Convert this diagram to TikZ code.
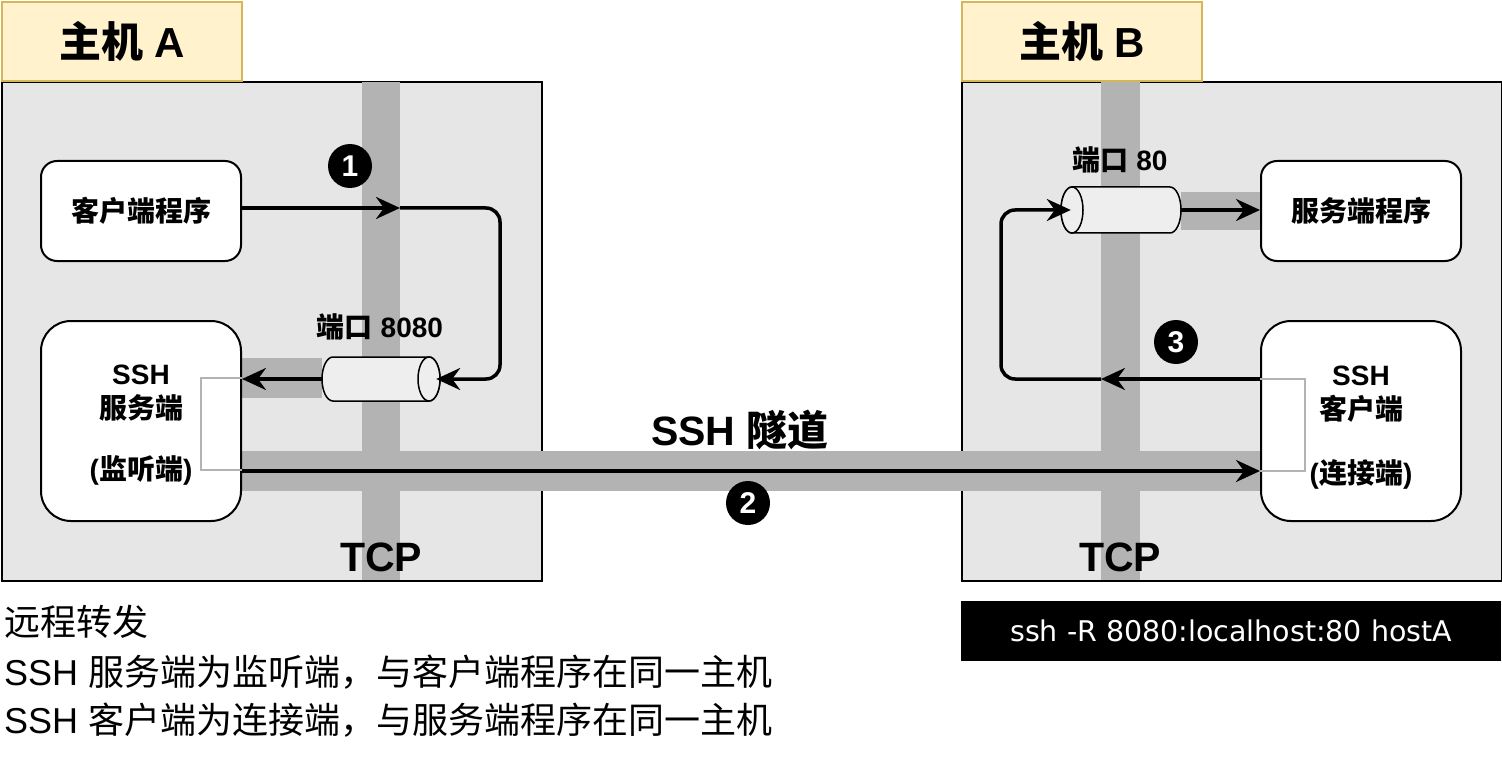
\documentclass[tikz,border=0pt]{standalone}
\usepackage{fontspec}
\setmainfont{Liberation Sans}
\newfontfamily\cjk{Noto Sans CJK SC}
\newfontfamily\cmdfont{DejaVu Sans}
\usetikzlibrary{arrows.meta}
\definecolor{hostgray}{HTML}{E6E6E6}
\definecolor{bandgray}{HTML}{B3B3B3}
\definecolor{labelfill}{HTML}{FFF2CC}
\definecolor{labelborder}{HTML}{D6B656}
\definecolor{cylfill}{HTML}{EEEEEE}
\newcommand\zh[1]{{\cjk #1}}
\begin{document}
\begin{tikzpicture}[x=1pt,y=-1pt,
  hostbox/.style={draw=black, line width=2pt, fill=hostgray, minimum width=540, minimum height=499, anchor=north west, inner sep=0},
  hostlabel/.style={draw=labelborder, fill=labelfill, line width=2pt, minimum width=240, minimum height=79, anchor=north west, inner sep=0, font=\bfseries\fontsize{42}{44}\selectfont},
  band/.style={fill=bandgray},
  prog/.style={draw=black, line width=2pt, fill=white, rounded corners=16, minimum width=200, minimum height=100, font=\bfseries\fontsize{28}{32}\selectfont, inner sep=0},
  sshbox/.style={prog, rounded corners=30, minimum height=200},
  portarea/.style={inner sep=0, minimum width=118, minimum height=44},
  cyl/.style={draw=black, line width=1.5pt, fill=cylfill},
  portlabel/.style={font=\bfseries\fontsize{28}{31}\selectfont},
  tip/.style={-{Stealth[length=24pt,width=22pt,inset=8pt]}},
  flow/.style={draw=black, line width=3.5pt, tip},
  loopline/.style={draw=bandgray, line width=2.5pt},
  badge/.style={circle, fill=black, minimum size=44, inner sep=0, text=white, font=\bfseries\fontsize{30}{30}\selectfont},
  big/.style={font=\bfseries\fontsize{41}{42}\selectfont},
  note/.style={anchor=base west, font=\fontsize{36}{40}\selectfont, inner sep=0},
  cmd/.style={fill=black, text=white, minimum width=540, minimum height=60, anchor=north west, inner sep=0, font=\cmdfont\fontsize{28.5}{30}\selectfont}
]
\useasboundingbox (0,0) rectangle (1502,762);

% hosts
\node[hostbox] (hostA) at (1,81) {};
\node[hostbox] (hostB) at (961,81) {};
\node[hostlabel] (labA) at (1,1) {\zh{主机} A};
\node[hostlabel] (labB) at (961,1) {\zh{主机} B};

% TCP bands and tunnel
\fill[band] (362,82) rectangle (400,580);
\fill[band] (1101,82) rectangle (1140,580);
\fill[band] (241,451) rectangle (1261,491);
\fill[band] (241,358) rectangle (322,398);
\fill[band] (1181,192) rectangle (1261,230);

% boxes
\node[prog] (client) at (141,211) {\zh{客户端程序}};
\node[sshbox] (sshsrv) at (141,421) {\begin{tabular}{@{}c@{}}\rule{0pt}{32.4pt}SSH\\\zh{服务端}\\[28pt](\zh{监听端})\end{tabular}};
\node[prog] (service) at (1361,211) {\zh{服务端程序}};
\node[sshbox] (sshcli) at (1361,421) {\begin{tabular}{@{}c@{}}\rule{0pt}{36.4pt}SSH\\\zh{客户端}\\[31pt](\zh{连接端})\end{tabular}};

% ports (cylinders)
\node[portarea] (cylA) at (381,379) {};
\filldraw[cyl] (333,357) arc[start angle=270, end angle=90, x radius=11, y radius=22]
  -- (429,401) arc[start angle=90, end angle=-90, x radius=11, y radius=22] -- cycle;
\draw[cyl] (429,379) ellipse [x radius=11, y radius=22];
\node[portarea, minimum width=120, minimum height=46] (cylB) at (1121,210) {};
\filldraw[cyl] (1072,187) -- (1170,187) arc[start angle=270, end angle=450, x radius=11, y radius=23]
  -- (1072,233) arc[start angle=90, end angle=270, x radius=11, y radius=23] -- cycle;
\draw[cyl] (1072,210) ellipse [x radius=11, y radius=23];
\node[portlabel] (plA) at (380,327) {\zh{端口} 8080};
\node[portlabel] (plB) at (1120,160) {\zh{端口} 80};

% coordinates
\coordinate (a1) at (400,208);
\coordinate (a1r) at (500,208);
\coordinate (tun) at (0,471);
\coordinate (a3) at (1101,379);
\coordinate (a3l) at (1001,379);
\coordinate (srvloopT) at (201,378);
\coordinate (srvloopB) at (201,470);
\coordinate (cliloopT) at (1305,379);
\coordinate (cliloopB) at (1305,471);

% gray loops inside ssh boxes
\draw[loopline] (sshsrv.east |- srvloopT) -- (srvloopT) -- (srvloopB) -- (sshsrv.east |- srvloopB);
\draw[loopline] (sshcli.west |- cliloopT) -- (cliloopT) -- (cliloopB) -- (sshcli.west |- cliloopB);

% flow 1
\draw[flow] (client.east |- a1) -- (a1);
\draw[flow, rounded corners=14] (a1) -- (a1r) |- ([xshift=-4]cylA.east);
\draw[flow] (cylA.west) -- (cylA.west -| sshsrv.east);
% flow 2
\draw[flow] (sshsrv.east |- tun) -- (sshcli.west |- tun);
% flow 3
\draw[flow] (sshcli.west |- a3) -- (a3);
\draw[flow, rounded corners=14] (a3) -- (a3l) |- ([xshift=10]cylB.west);
\draw[flow] (cylB.east) -- (cylB.east -| service.west);

% labels
\node[big] (tunlabel) at (740,430) {SSH \zh{隧道}};
\node[big] (tcpA) at (381,557) {TCP};
\node[big] (tcpB) at (1120,557) {TCP};
\node[badge] (n1) at (350,166) {1};
\node[badge] (n2) at (748,503) {2};
\node[badge] (n3) at (1176,342) {3};

% notes
\node[note] (t1) at (4,635) {\zh{远程转发}};
\node[note] (t2) at (4,685) {SSH \zh{服务端为监听端，与客户端程序在同一主机}};
\node[note] (t3) at (4,733) {SSH \zh{客户端为连接端，与服务端程序在同一主机}};
\node[cmd] (cmd) at (961,601) {ssh -R 8080:localhost:80 hostA};
\end{tikzpicture}
\end{document}
